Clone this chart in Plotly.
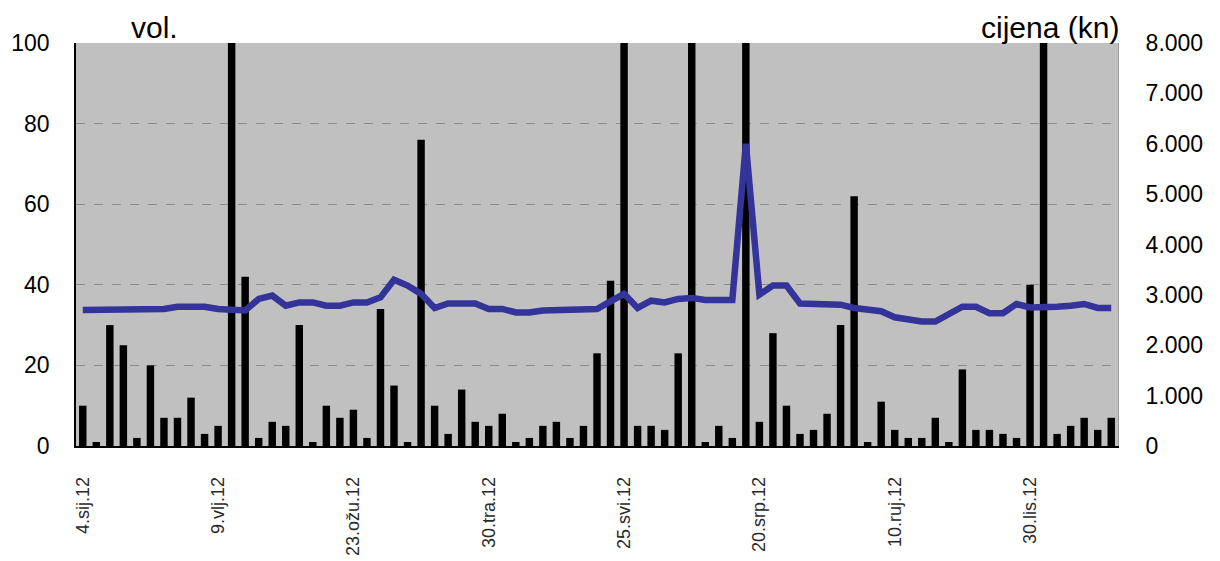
import plotly.graph_objects as go

# ---- data ----
volume = [10, 1, 30, 25, 2, 20, 7, 7, 12, 3, 5, 180, 42, 2, 6, 5, 30, 1, 10, 7,
          9, 2, 34, 15, 1, 76, 10, 3, 14, 6, 5, 8, 1, 2, 5, 6, 2, 5, 23, 41,
          150, 5, 5, 4, 23, 130, 1, 5, 2, 200, 6, 28, 10, 3, 4, 8, 30, 62, 1, 11,
          4, 2, 2, 7, 1, 19, 4, 4, 3, 2, 40, 160, 3, 5, 7, 4, 7]
price = [2700, 2700, 2700, 2700, 2700, 2700, 2720, 2765, 2765, 2765, 2720, 2690, 2690, 2920, 2985, 2785, 2850, 2850, 2785, 2785,
         2850, 2850, 2950, 3300, 3185, 3020, 2740, 2830, 2830, 2830, 2720, 2720, 2650, 2650, 2690, 2690, 2690, 2690, 2720, 2870,
         3020, 2740, 2885, 2850, 2920, 2940, 2900, 2900, 2900, 6000, 3005, 3185, 3185, 2830, 2820, 2805, 2805, 2740, 2700, 2675,
         2555, 2500, 2470, 2470, 2620, 2765, 2765, 2635, 2635, 2820, 2750, 2750, 2765, 2785, 2820, 2740, 2740]
tick_positions = [0, 10, 20, 30, 40, 50, 60, 70]
tick_labels = ["4.sij.12", "9.vlj.12", "23.ožu.12", "30.tra.12", "25.svi.12", "20.srp.12", "10.ruj.12", "30.lis.12"]
left_ticks = [0, 20, 40, 60, 80, 100]
right_ticks = [0, 1000, 2000, 3000, 4000, 5000, 6000, 7000, 8000]
right_tick_labels = ["0", "1.000", "2.000", "3.000", "4.000", "5.000", "6.000", "7.000", "8.000"]

x = list(range(len(volume)))
FONT = "Liberation Sans, Arial, sans-serif"

fig = go.Figure()
fig.add_trace(go.Bar(x=x, y=volume, width=0.55, marker=dict(color="black", line=dict(width=0)),
                     yaxis="y", showlegend=False))
fig.add_trace(go.Scatter(x=x, y=price, mode="lines", yaxis="y2",
                         line=dict(color="#333399", width=6.5), showlegend=False))

fig.update_layout(
    width=1220, height=561,
    margin=dict(l=68, r=110, t=35, b=123),
    paper_bgcolor="white", plot_bgcolor="#C0C0C0",
    font=dict(family=FONT, color="black"),
    bargap=0.45,
    xaxis=dict(range=[-0.5, len(volume) - 0.5], tickmode="array", tickvals=tick_positions,
               ticktext=tick_labels, tickangle=-90, tickfont=dict(size=18, color="#2a2a2a"),
               showgrid=False, zeroline=False, showline=True, linecolor="black", linewidth=1.5,
               ticks="", ticklabelstandoff=22, automargin=False),
    yaxis=dict(range=[0, 100], tickmode="array", tickvals=left_ticks,
               tickfont=dict(size=23, color="black"), showgrid=True, gridcolor="#8c8c8c",
               griddash="dash", gridwidth=1, zeroline=False, showline=True, linecolor="black",
               linewidth=1.5, ticks="", ticklabelstandoff=20, automargin=False),
    yaxis2=dict(range=[0, 8000], overlaying="y", side="right", tickmode="array",
                tickvals=right_ticks, ticktext=right_tick_labels,
                tickfont=dict(size=23, color="black"), showgrid=False, zeroline=False,
                showline=True, linecolor="#9a9a9a", linewidth=1, ticks="", ticklabelstandoff=22,
                automargin=False),
    annotations=[
        dict(text="vol.", xref="paper", yref="paper", x=0.0758, xanchor="center", y=1,
             yanchor="middle", yshift=16, showarrow=False, borderpad=0,
             font=dict(size=30, color="black", family=FONT)),
        dict(text="cijena (kn)", xref="paper", yref="paper", x=0.935, xanchor="center", y=1,
             yanchor="middle", yshift=16, showarrow=False, borderpad=0,
             font=dict(size=30, color="black", family=FONT)),
    ],
)

fig.write_html("out.html")
